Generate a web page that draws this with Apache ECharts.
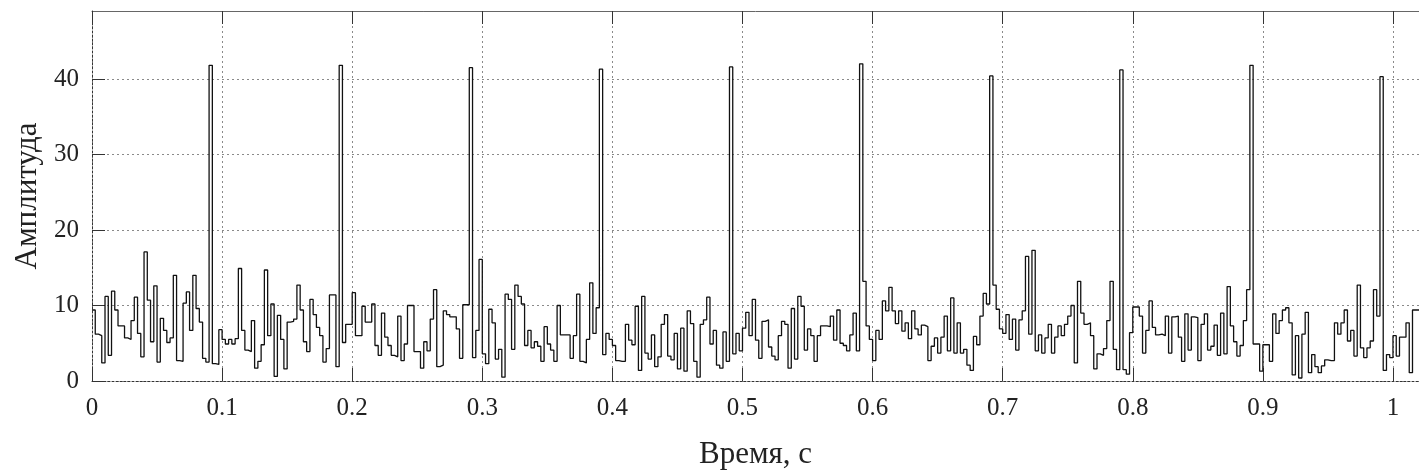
<!DOCTYPE html>
<html>
<head>
<meta charset="utf-8">
<script src="https://cdn.jsdelivr.net/npm/echarts@6/dist/echarts.min.js"></script>
<style>
html,body{margin:0;padding:0;background:#fff;}
#chart{width:1419px;height:475px;}
</style>
</head>
<body>
<div id="chart"></div>
<script>
// sample period, s
const dt = 0.0025;
// amplitude samples, one array per 0.1 s
const amp00 = [9.4,6.2,6.0,2.4,11.2,3.4,11.9,9.4,7.3,7.3,5.7,5.5,8.0,11.1,6.3,3.2,17.1,10.7,5.2,12.6,2.5,8.3,6.7,5.1,5.7,14.0,2.7,2.6,10.3,11.8,6.7,14.0,9.6,7.8,3.0,2.5,41.8,2.3,2.2,6.8];
const amp01 = [5.5,4.9,5.5,4.9,5.6,14.9,6.7,4.1,3.9,8.0,1.7,2.6,4.8,14.7,6.0,10.2,0.6,8.7,5.5,1.6,7.8,7.9,8.2,12.7,9.4,5.2,3.9,10.8,8.8,7.1,6.0,2.5,4.3,11.4,11.4,1.9,41.8,5.1,7.5,7.5];
const amp02 = [11.7,6.0,6.0,9.9,7.8,7.8,10.2,4.7,3.4,9.0,5.8,4.7,3.4,3.2,8.6,2.7,4.9,10.0,10.0,3.9,3.9,1.7,5.2,4.0,8.2,12.1,1.9,2.1,9.3,8.8,8.5,8.5,6.9,3.0,10.1,10.1,41.5,3.1,6.7,16.1];
const amp03 = [3.6,2.3,9.5,7.7,2.9,4.2,0.5,11.5,10.8,4.2,12.7,11.2,10.2,4.7,6.7,4.4,5.2,4.6,2.6,7.2,4.9,4.1,2.6,10.0,6.1,6.1,6.1,3.0,6.0,11.5,2.6,2.4,5.5,13.0,6.3,9.7,41.3,3.5,6.3,5.5];
const amp04 = [4.7,2.7,2.6,2.6,7.5,5.4,4.8,9.9,1.4,11.2,3.7,2.9,6.1,1.9,3.2,7.5,8.8,3.3,2.8,6.3,1.6,7.0,1.3,9.3,7.6,2.6,0.5,7.5,8.1,11.1,4.9,6.7,2.1,1.7,6.5,2.6,41.6,3.6,6.3,4.0];
const amp05 = [7.0,9.1,6.0,10.8,5.4,3.0,7.9,8.1,4.5,3.3,2.8,6.0,7.9,7.5,1.7,9.6,2.9,11.2,9.9,4.1,6.9,6.0,2.6,6.0,7.3,7.3,7.2,8.6,5.4,9.4,5.0,4.7,4.0,6.1,9.0,4.0,42.0,13.2,7.3,5.5];
const amp06 = [2.7,6.7,5.5,10.6,9.3,12.4,9.3,7.6,9.3,6.6,7.7,5.6,9.3,6.9,6.1,7.4,7.2,2.7,4.6,5.7,3.7,5.8,8.6,4.0,11.0,3.7,7.7,3.7,4.2,2.1,1.4,5.9,4.8,8.6,11.6,10.2,40.4,12.7,9.5,6.9];
const amp07 = [6.3,8.8,5.5,8.2,4.1,8.1,9.3,16.5,6.2,17.3,4.0,6.1,3.7,5.7,7.5,3.7,5.8,7.3,6.0,7.5,8.6,10.0,2.4,13.2,9.0,7.5,7.7,6.0,1.6,3.6,3.4,4.3,8.0,13.2,4.2,1.5,41.2,1.5,0.9,6.4];
const amp08 = [9.8,9.8,8.6,3.7,6.7,10.6,7.1,6.1,6.2,6.0,8.6,3.7,8.5,8.6,5.8,2.6,8.9,4.1,8.5,8.4,2.7,7.5,8.9,4.1,4.6,7.4,3.4,9.0,3.6,12.5,7.3,5.2,3.3,4.7,8.0,12.1,41.8,4.9,4.9,1.3];
const amp09 = [4.8,4.8,2.6,8.9,6.3,8.0,9.4,9.7,7.7,0.8,6.0,0.4,6.2,9.1,1.1,3.5,1.9,1.1,2.0,2.8,2.7,2.7,7.7,6.2,7.7,9.4,5.3,6.7,3.3,12.7,4.4,3.1,4.4,5.3,12.1,8.6,40.3,1.4,3.5,3.1];
const amp10 = [6.0,3.3,5.8,5.8,7.7,1.1,9.4,9.4];

const amplitude = [].concat(amp00,amp01,amp02,amp03,amp04,amp05,amp06,amp07,amp08,amp09,amp10);
const points = amplitude.map((v,i)=>[i*dt, v]);
points.push([amplitude.length*dt, amplitude[amplitude.length-1]]);

const serif = 'Liberation Serif';
const chart = echarts.init(document.getElementById('chart'), null, {renderer:'canvas'});
const tickFmtX = v => {
  const r = Math.round(v*10);
  return (Math.abs(v*10-r) < 1e-6 && r <= 10) ? String(r/10) : '';
};
const tickFmtY = v => (Math.abs(v % 10) < 1e-6 ? String(v) : '');
chart.setOption({
  animation:false,
  backgroundColor:'#fff',
  grid:{left:92, top:11, width:1329, height:377, containLabel:false},
  xAxis:[{
    type:'value', min:0, max:1.02, interval:0.1, position:'bottom',
    axisLine:{show:true, onZero:false, lineStyle:{color:'#333', width:1, type:[2,2]}},
    axisTick:{show:true, inside:true, length:13, lineStyle:{color:'#333'}},
    axisLabel:{formatter:tickFmtX, fontFamily:serif, fontSize:25, color:'#222', margin:15, showMaxLabel:false},
    splitLine:{show:true, lineStyle:{color:'#8a8a8a', width:1, type:[2,3]}},
    name:'Время, с', nameLocation:'middle', nameGap:58,
    nameTextStyle:{fontFamily:serif, fontSize:31, color:'#222'}
  },{
    type:'value', min:0, max:1.02, interval:0.1, position:'top',
    axisLine:{show:true, onZero:false, lineStyle:{color:'#666', width:1}},
    axisTick:{show:true, inside:true, length:13, lineStyle:{color:'#333'}},
    axisLabel:{show:false}, splitLine:{show:false}
  }],
  yAxis:[{
    type:'value', min:0, max:49, interval:10,
    axisLine:{show:true, onZero:false, lineStyle:{color:'#333', width:1, type:[2,2]}},
    axisTick:{show:true, inside:true, length:13, lineStyle:{color:'#333'}},
    axisLabel:{formatter:tickFmtY, fontFamily:serif, fontSize:25, color:'#222', margin:13, showMaxLabel:false},
    splitLine:{show:true, lineStyle:{color:'#8a8a8a', width:1, type:[2,3]}},
    name:'Амплитуда', nameLocation:'middle', nameGap:49, nameRotate:90,
    nameTextStyle:{fontFamily:serif, fontSize:31, color:'#222'}
  }],
  series:[{
    type:'line', step:'end', xAxisIndex:0, yAxisIndex:0,
    data:points, symbol:'none', showSymbol:false,
    lineStyle:{color:'#111', width:1.3}
  }]
});
</script>
</body>
</html>
